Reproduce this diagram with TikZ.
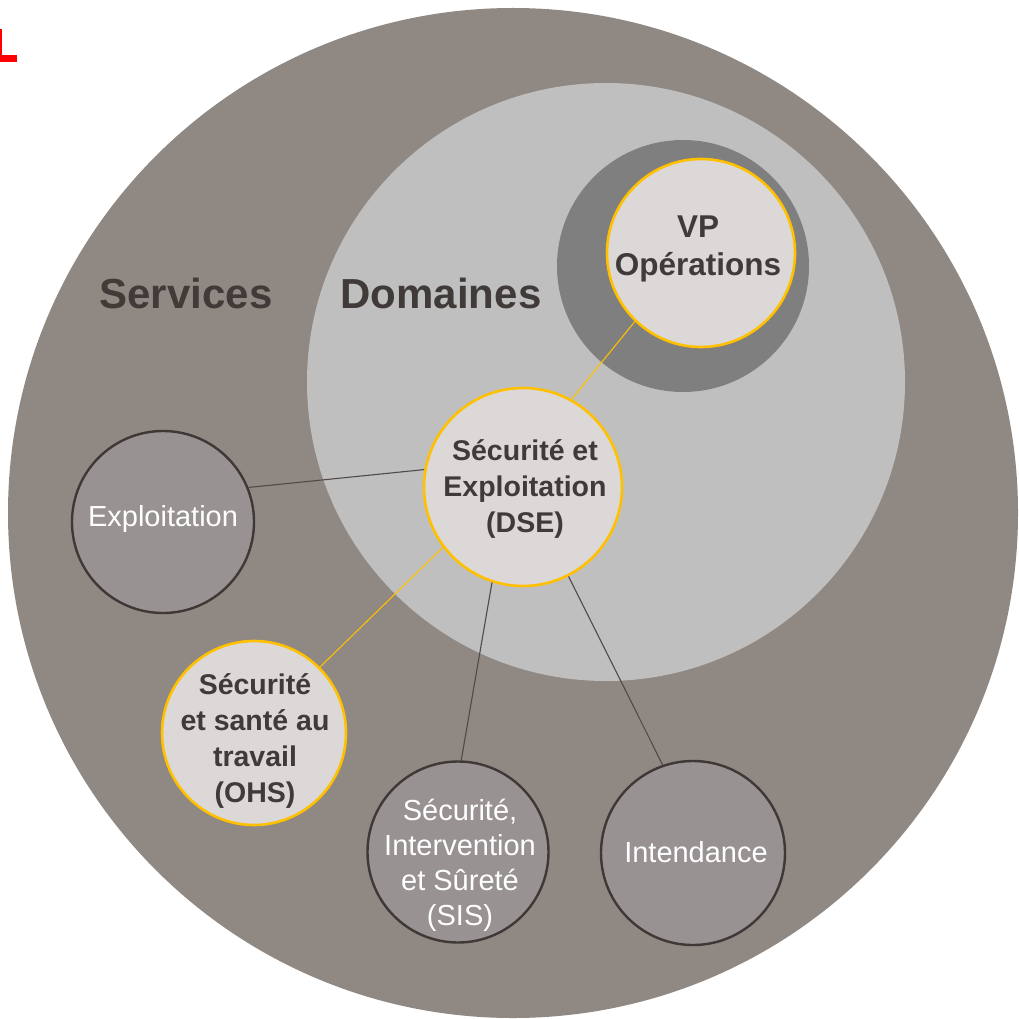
\documentclass[tikz,border=0pt]{standalone}
\usepackage{fontspec}
\setmainfont{Liberation Sans}
\definecolor{outerc}{RGB}{143,136,131}
\definecolor{domc}{RGB}{191,191,191}
\definecolor{ringc}{RGB}{127,127,127}
\definecolor{lightc}{RGB}{220,216,215}
\definecolor{servc}{RGB}{152,146,146}
\definecolor{edgec}{RGB}{62,57,55}
\definecolor{textc}{RGB}{64,58,56}
\definecolor{goldc}{RGB}{255,192,0}
\definecolor{linec}{RGB}{80,75,73}
\begin{document}
\begin{tikzpicture}[x=1pt,y=-1pt,
  keycircle/.style={circle,draw=goldc,line width=2.6pt,fill=lightc,inner sep=0pt},
  servcircle/.style={circle,draw=edgec,line width=2.4pt,fill=servc,inner sep=0pt},
  boldtext/.style={text=textc,font=\bfseries\fontsize{28.5}{36}\selectfont,align=center,inner sep=0pt},
  servtext/.style={text=white,font=\fontsize{29}{35}\selectfont,align=center,inner sep=0pt},
  titletext/.style={text=textc,font=\bfseries\fontsize{42}{48}\selectfont,inner sep=0pt},
  goldline/.style={draw=goldc,line width=1.1pt},
  greyline/.style={draw=linec,line width=1.1pt}]
\useasboundingbox (0,0) rectangle (1018,1019);
\fill[white] (0,0) rectangle (1018,1019);
% red mark
\fill[red] (0,29) rectangle (2,62);
\fill[red] (0,55) rectangle (17,62);
% background circles
\node[circle,fill=outerc,inner sep=0pt,minimum size=1010pt] (outer) at (513,513) {};
\node[circle,fill=domc,inner sep=0pt,minimum size=598pt] (dom) at (606,382) {};
\node[circle,fill=ringc,inner sep=0pt,minimum size=252pt] (ring) at (683,266) {};
% titles
\node[titletext] (services) at (186,293) {Services};
\node[titletext] (domaines) at (441,293) {Domaines};
% circles
\node[keycircle,minimum size=188pt] (vp) at (701,253) {};
\node[keycircle,minimum size=198pt] (dse) at (523,487) {};
\node[keycircle,minimum size=184pt] (ohs) at (254,733) {};
\node[servcircle,minimum size=182pt] (expl) at (163,522) {};
\node[servcircle,minimum size=181pt] (sis) at (458,852) {};
\node[servcircle,minimum size=184pt] (int) at (693,853) {};
% connectors
\draw[goldline] (dse.61) -- (vp.226);
\draw[greyline] (dse.170) -- (expl.22);
\draw[goldline] (dse.217) -- (ohs.45);
\draw[greyline] (dse.252) -- (sis.88);
\draw[greyline] (dse.297) -- (int.109);
% texts
\node[boldtext,font=\bfseries\fontsize{31.5}{38}\selectfont] (vpt) at (698,249) {VP\\Opérations};
\node[boldtext] (dset) at (525,489) {Sécurité et\\Exploitation\\(DSE)};
\node[boldtext] (ohst) at (255,741) {Sécurité\\et santé au\\travail\\(OHS)};
\node[servtext] (explt) at (163,519) {Exploitation};
\node[servtext] (sist) at (460,865) {Sécurité,\\Intervention\\et Sûreté\\(SIS)};
\node[servtext] (intt) at (696,852) {Intendance};
\end{tikzpicture}
\end{document}
